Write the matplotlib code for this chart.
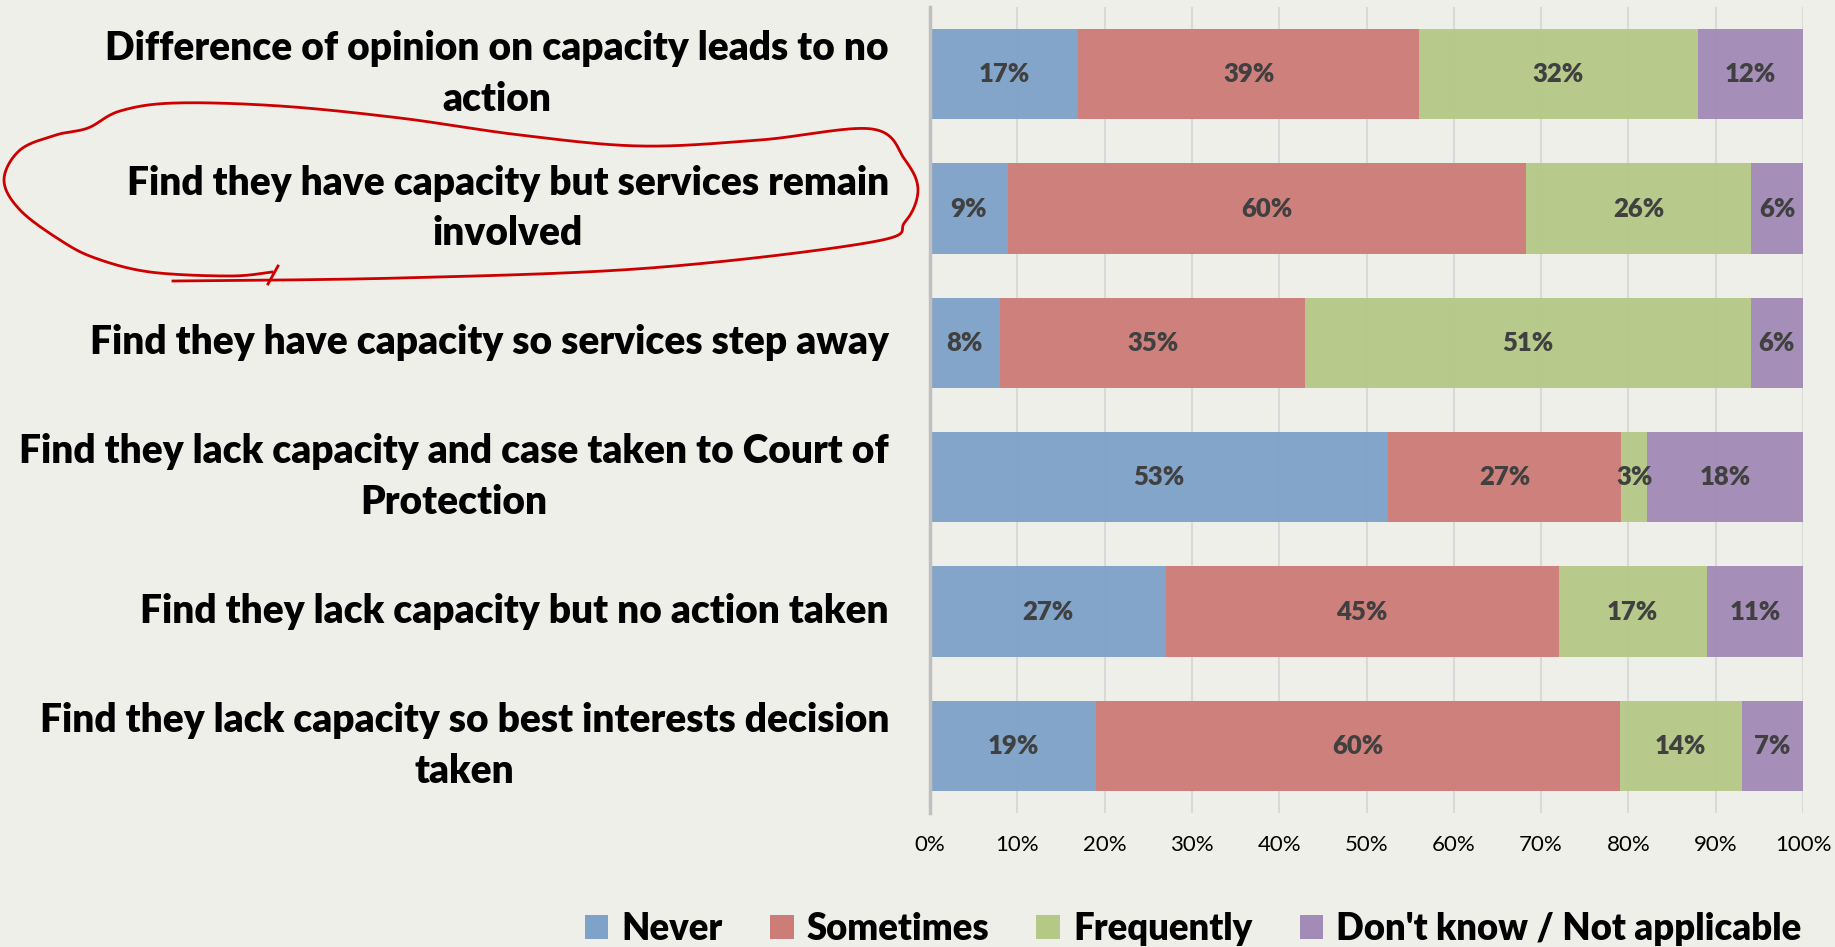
import numpy as np
import matplotlib
matplotlib.use("Agg")
import matplotlib.pyplot as plt
import matplotlib.transforms as mtransforms
from matplotlib.patches import Patch

plt.rcParams['font.family'] = ['Lato', 'DejaVu Sans']

categories = [
    "Difference of opinion on capacity leads to no\naction",
    "Find they have capacity but services remain\ninvolved",
    "Find they have capacity so services step away",
    "Find they lack capacity and case taken to Court of\nProtection",
    "Find they lack capacity but no action taken",
    "Find they lack capacity so best interests decision\ntaken",
]
series = ["Never", "Sometimes", "Frequently", "Don't know / Not applicable"]
never = [17, 9, 8, 53, 27, 19]
sometimes = [39, 60, 35, 27, 45, 60]
frequently = [32, 26, 51, 3, 17, 14]
dont_know = [12, 6, 6, 18, 11, 7]
colors = ['#7fa2c9', '#cd7d78', '#b5c987', '#a28bb7']
bg = '#efefe9'

data = np.array([never, sometimes, frequently, dont_know], dtype=float)
shares = data / data.sum(axis=0)  # 100% stacked, like the source chart

fig = plt.figure(figsize=(18.35, 9.47), dpi=100, facecolor=bg)
ax = fig.add_axes([930/1835, 1-813/947, (1803-930)/1835, (813-7)/947])
ax.set_facecolor(bg)

y = np.arange(len(categories))
left = np.zeros(len(categories))
for vals, share, name, col in zip(data, shares, series, colors):
    ax.barh(y, share, left=left, height=0.67, color=col, label=name,
            alpha=0.96, zorder=2)
    for yi, l, s, v in zip(y, left, share, vals):
        ax.text(l + s/2, yi, f"{v:.0f}%", ha='center', va='center',
                fontsize=18.5, fontweight='heavy', color='#404040', zorder=3)
    left += share

ax.set_xlim(0, 1)
ax.set_ylim(len(categories) - 0.5, -0.5)
ax.set_xticks(np.linspace(0, 1, 11))
ax.set_xticklabels([f"{t}%" for t in range(0, 101, 10)], fontsize=16)
ax.set_yticks(y)
ax.set_yticklabels([])
ax.tick_params(axis='y', length=0)
ax.tick_params(axis='x', length=0, pad=16)
ax.grid(axis='x', color='#d9d9d9', linewidth=1.5, zorder=0)
for s in ['top', 'right', 'bottom']:
    ax.spines[s].set_visible(False)
ax.spines['left'].set_color('#bfbfbf')
ax.spines['left'].set_linewidth(2.5)
ax.spines['left'].set_zorder(4)

# category labels drawn as text so the two-line ones sit centred on the bars
off = mtransforms.ScaledTranslation(-41/100, 0, fig.dpi_scale_trans)
for yi, cat in zip(y, categories):
    ax.text(0, yi, cat, transform=ax.get_yaxis_transform() + off,
            ha='right', va='center', multialignment='center',
            fontsize=28, fontweight='heavy', linespacing=1.45)

handles = [Patch(facecolor=c, label=n) for c, n in zip(colors, series)]
fig.legend(handles=handles, loc='center', bbox_to_anchor=(1193/1835, 1-929/947),
           ncol=4, frameon=False, prop={'size': 26.3, 'weight': 'heavy'},
           handlelength=0.65, handleheight=0.65, handletextpad=0.35,
           columnspacing=1.3)

# hand-drawn red ring around the second label (pixel coords of the picture)
ring = np.array([
    [173, 281], [400, 278], [650, 268], [872, 242], [905, 222], [918, 190],
    [905, 160], [872, 129], [760, 140], [640, 146], [520, 135], [400, 118],
    [280, 106], [175, 103], [120, 111], [88, 128], [56, 135], [20, 150],
    [4, 180], [20, 210], [60, 240], [95, 258], [150, 272], [230, 276], [272, 272],
])

def smooth(p, n=20):
    out = []
    for i in range(len(p) - 1):
        p0 = p[max(i - 1, 0)]
        p1, p2 = p[i], p[i + 1]
        p3 = p[min(i + 2, len(p) - 1)]
        t = np.linspace(0, 1, n, endpoint=False)[:, None]
        out.append(0.5 * (2*p1 + (-p0 + p2)*t + (2*p0 - 5*p1 + 4*p2 - p3)*t**2
                          + (-p0 + 3*p1 - 3*p2 + p3)*t**3))
    out.append(p[-1:])
    return np.vstack(out)

pts = smooth(ring.astype(float))
fig.add_artist(plt.Line2D(pts[:, 0]/1835, 1 - pts[:, 1]/947, color='#cc0000',
                          linewidth=2, transform=fig.transFigure))
fig.add_artist(plt.Line2D(np.array([268, 278])/1835, 1 - np.array([284, 266])/947,
                          color='#cc0000', linewidth=2, transform=fig.transFigure))

fig.savefig("out.png", dpi=100, facecolor=bg)
